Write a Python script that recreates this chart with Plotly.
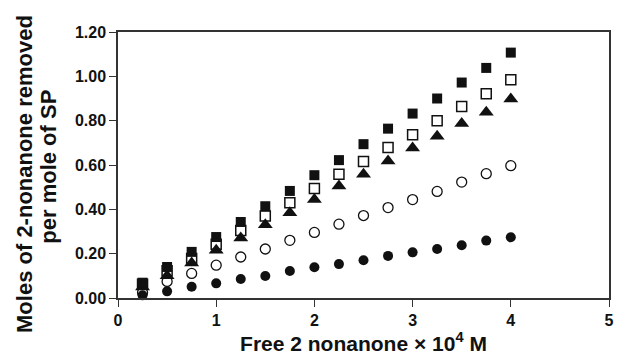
import plotly.graph_objects as go

x_vals = [0.25, 0.5, 0.75, 1.0, 1.25, 1.5, 1.75, 2.0, 2.25, 2.5, 2.75, 3.0, 3.25, 3.5, 3.75, 4.0]
filled_square = [0.069, 0.140, 0.208, 0.275, 0.343, 0.414, 0.483, 0.554, 0.622, 0.694, 0.764, 0.832, 0.900, 0.972, 1.038, 1.107]
open_square = [0.062, 0.123, 0.178, 0.242, 0.305, 0.370, 0.430, 0.494, 0.558, 0.616, 0.679, 0.737, 0.800, 0.864, 0.921, 0.985]
filled_triangle = [0.050, 0.100, 0.158, 0.215, 0.271, 0.331, 0.385, 0.444, 0.505, 0.558, 0.618, 0.677, 0.730, 0.787, 0.838, 0.898]
open_circle = [0.025, 0.075, 0.111, 0.148, 0.185, 0.221, 0.260, 0.296, 0.333, 0.372, 0.408, 0.444, 0.481, 0.523, 0.561, 0.597]
filled_circle = [0.012, 0.030, 0.051, 0.066, 0.086, 0.099, 0.122, 0.139, 0.153, 0.170, 0.190, 0.206, 0.221, 0.238, 0.259, 0.274]

y_ticks = [0, 0.2, 0.4, 0.6, 0.8, 1.0, 1.2]
y_tick_labels = ["0.00", "0.20", "0.40", "0.60", "0.80", "1.00", "1.20"]
x_ticks = [0, 1, 2, 3, 4, 5]
y_title_lines = ["Moles of 2-nonanone removed", "per mole of SP"]
x_title = "Free 2 nonanone × 10<sup>4</sup> M"

INK = "#111111"
FONT = "Liberation Sans, Arial, Helvetica, sans-serif"

series = [
    (filled_circle, "circle", 10, INK, None),
    (open_circle, "circle-open", 10, INK, 1.3),
    (filled_triangle, "triangle-up", 13, INK, None),
    (open_square, "square-open", 10, INK, 1.5),
    (filled_square, "square", 10, INK, None),
]

fig = go.Figure()
for ys, sym, size, col, lw in series:
    marker = dict(symbol=sym, size=size, color=col)
    if lw is not None:
        marker["line"] = dict(width=lw, color=col)
    else:
        marker["line"] = dict(width=0)
    fig.add_trace(go.Scatter(x=x_vals, y=ys, mode="markers", marker=marker,
                             cliponaxis=False, showlegend=False))

axis_common = dict(
    showgrid=False, zeroline=False, showline=True, linecolor="#333333", linewidth=1.5,
    mirror=True, ticks="outside", ticklen=7, tickwidth=1.2, tickcolor="#333333",
    tickfont=dict(family=FONT, size=16, color=INK, weight="bold"),
)

L, R, T, B, W, H = 118, 6, 32, 58, 620, 356
pw, ph = W - L - R, H - T - B

def px_to_paper(px, py):
    return (px - L) / pw, (H - B - py) / ph

fig.update_layout(
    width=W, height=H,
    margin=dict(l=L, r=R, t=T, b=B),
    paper_bgcolor="white", plot_bgcolor="white",
    font=dict(family=FONT, color=INK),
    xaxis=dict(range=[0, 5], tickvals=x_ticks, **axis_common,
               title=dict(text=x_title,
                          font=dict(family=FONT, size=21, color=INK, weight="bold"),
                          standoff=3)),
    yaxis=dict(range=[0, 1.2], tickvals=y_ticks, ticktext=y_tick_labels, **axis_common),
)

# two-line rotated y-axis title placed as annotations
for (cx, cy), line in zip([(23, 174), (47, 167)], y_title_lines):
    ax, ay = px_to_paper(cx, cy)
    fig.add_annotation(x=ax, y=ay, xref="paper", yref="paper", text=line,
                       showarrow=False, textangle=-90, xanchor="center", yanchor="middle",
                       font=dict(family=FONT, size=22, color=INK, weight="bold"))

fig.write_html("out.html")
